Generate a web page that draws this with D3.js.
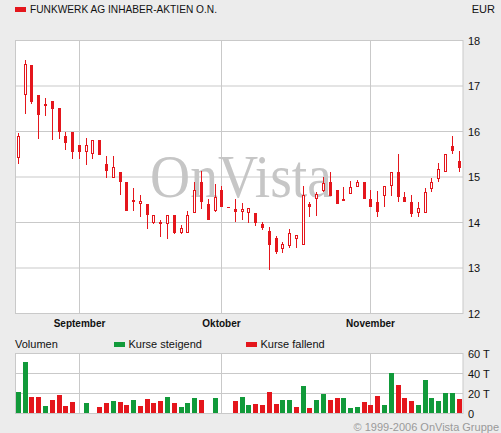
<!DOCTYPE html>
<html>
<head>
<meta charset="utf-8">
<script src="https://cdn.jsdelivr.net/npm/d3@7"></script>
<style>
  body { margin: 0; background: #ececec; }
  svg { display: block; font-family: "Liberation Sans", Arial, sans-serif; }
</style>
</head>
<body>
<div id="chart"></div>
<script>
// trading days (2006)
const dates = [
  "08-21","08-22","08-23","08-24","08-25","08-28","08-29","08-30","08-31",
  "09-01","09-04","09-05","09-06","09-07","09-08","09-11","09-12","09-13","09-14","09-15",
  "09-18","09-19","09-20","09-21","09-22","09-25","09-26","09-27","09-28","09-29",
  "10-02","10-03","10-04","10-05","10-06","10-09","10-10","10-11","10-12","10-13",
  "10-16","10-17","10-18","10-19","10-20","10-23","10-24","10-25","10-26","10-27","10-30","10-31",
  "11-01","11-02","11-03","11-06","11-07","11-08","11-09","11-10","11-13","11-14","11-15","11-16","11-17","11-20"
];
const open = [15.41,16.80,17.46,16.80,16.55,16.67,16.52,15.90,15.99,15.70,15.56,15.50,15.81,15.29,14.98,15.11,14.89,14.44,14.40,14.41,14.00,14.01,13.96,14.16,13.77,13.78,14.20,14.89,14.41,14.25,14.71,14.35,14.30,14.22,14.20,14.21,13.97,13.81,13.66,13.41,13.49,13.64,13.51,14.41,14.51,14.70,14.89,14.71,14.50,14.63,14.77,14.90,14.52,14.45,14.59,14.80,15.10,14.55,14.45,14.20,14.20,14.74,14.95,15.10,15.68,15.35];
const high = [15.96,17.57,17.46,16.80,16.74,16.67,16.52,16.00,15.99,15.70,15.86,15.81,15.81,15.46,15.46,15.11,14.89,14.75,14.60,14.41,14.16,14.05,14.16,14.16,13.95,14.25,14.88,15.13,14.51,14.85,14.80,14.35,14.51,14.43,14.31,14.21,14.02,13.91,13.70,13.57,13.86,13.72,14.80,14.46,14.68,15.01,15.11,14.71,14.77,14.91,14.93,14.90,14.71,14.69,14.80,15.10,15.51,14.67,14.60,14.45,14.75,14.98,15.31,15.50,15.90,15.57];
const low = [15.29,16.38,16.60,15.84,16.35,15.82,15.84,15.60,15.40,15.40,15.27,15.40,15.49,14.98,14.98,14.61,14.26,14.26,14.13,13.85,13.97,13.69,13.64,13.74,13.75,13.78,14.20,14.30,14.06,14.24,14.35,14.35,14.02,14.06,14.00,13.92,13.84,12.96,13.31,13.34,13.45,13.45,13.50,14.13,14.15,14.67,14.59,14.41,14.50,14.63,14.77,14.52,14.33,14.11,14.33,14.59,14.46,14.46,14.11,14.11,14.20,14.68,14.90,15.10,15.50,15.10];
const close = [15.90,17.48,16.65,16.37,16.60,16.50,16.00,15.75,15.56,15.56,15.70,15.81,15.49,15.14,15.21,14.90,14.26,14.49,14.47,14.17,14.16,14.02,14.16,13.78,13.89,14.16,14.71,14.45,14.06,14.55,14.35,14.35,14.23,14.30,14.31,14.00,13.88,13.50,13.35,13.53,13.76,13.72,14.60,14.35,14.63,14.86,14.59,14.41,14.51,14.79,14.88,14.52,14.33,14.22,14.80,15.10,14.55,14.46,14.19,14.31,14.66,14.88,15.17,15.50,15.58,15.20];
// volume in thousands
const volume = [21.7,51.7,16.7,16.7,7.7,13.7,18.7,7.7,11.7,0,10.7,0,6.7,10.7,12.7,11.7,8.7,13.7,7.7,14.7,10.7,12.7,16.7,10.7,6.7,10.7,15.7,13.7,0,15.7,0,0,12.7,16.7,8.7,9.7,8.7,21.7,9.7,13.7,13.7,6.7,27.7,5.7,13.7,19.7,13.7,15.7,15.7,5.7,6.7,11.7,8.7,17.7,8.7,40.7,28.7,15.7,12.7,8.7,33.7,15.7,12.7,20.7,20.7,14.7];

const monthStarts = ["09-01","10-02","11-01"];
const monthLabels = ["September","Oktober","November"];
const priceTicks = [12,13,14,15,16,17,18];
const volTicks = [0,20,40,60];

const width = 501, height = 433;
const red = "#e4161c", green = "#119a3a", grid = "#c9c9c9";

const svg = d3.select("#chart").append("svg")
  .attr("width", width).attr("height", height);

svg.append("rect").attr("width", width).attr("height", height).attr("fill", "#ececec");

const x = d3.scaleBand().domain(dates).range([15, 462.5]).padding(0);
const cx = (d) => Math.round(x(d) + x.bandwidth() / 2 - 0.5) + 0.5;
const y = d3.scaleLinear().domain([12, 18]).range([313.5, 40.5]);
const yv = d3.scaleLinear().domain([0, 60]).range([413.5, 353.5]);

const data = dates.map((d, i) => ({
  date: d, o: open[i], h: high[i], l: low[i], c: close[i], v: volume[i],
  up: i === 0 ? close[i] >= open[i] : close[i] >= close[i - 1],
}));

// header
svg.append("rect").attr("x", 15).attr("y", 7).attr("width", 11).attr("height", 5).attr("fill", red);
svg.append("text").attr("x", 30).attr("y", 13).attr("font-size", 11).attr("fill", "#111")
  .attr("textLength", 187).attr("lengthAdjust", "spacingAndGlyphs")
  .text("FUNKWERK AG INHABER-AKTIEN O.N.");
svg.append("text").attr("x", 495).attr("y", 13).attr("font-size", 11).attr("fill", "#111")
  .attr("text-anchor", "end").text("EUR");

// price panel
const pg = svg.append("g");
pg.append("rect").attr("x", 15.5).attr("y", 40.5).attr("width", 447.5).attr("height", 273)
  .attr("fill", "#fff");
pg.append("g").selectAll("line").data(priceTicks).join("line")
  .attr("x1", 15.5).attr("x2", 463).attr("y1", (d) => y(d)).attr("y2", (d) => y(d))
  .attr("stroke", grid);
pg.append("g").selectAll("line").data(monthStarts).join("line")
  .attr("x1", cx).attr("x2", cx).attr("y1", 40.5).attr("y2", 313.5)
  .attr("stroke", grid);
pg.append("rect").attr("x", 15.5).attr("y", 40.5).attr("width", 447.5).attr("height", 273)
  .attr("fill", "none").attr("stroke", grid);

// watermark
pg.append("text").attr("x", 150).attr("y", 197)
  .attr("font-family", "'Liberation Serif', 'DejaVu Serif', serif")
  .attr("font-size", 62).attr("fill", "#c6c6c6")
  .attr("textLength", 182).attr("lengthAdjust", "spacingAndGlyphs")
  .text("OnVista");

// candles
const candles = pg.append("g").selectAll("g").data(data).join("g");
candles.append("line")
  .attr("x1", (d) => cx(d.date)).attr("x2", (d) => cx(d.date))
  .attr("y1", (d) => Math.round(y(d.h))).attr("y2", (d) => Math.round(y(d.l)))
  .attr("stroke", red);
candles.filter((d) => d.c > d.o).append("rect")
  .attr("x", (d) => cx(d.date) - 1)
  .attr("y", (d) => Math.round(y(d.c)) + 0.5)
  .attr("width", 2)
  .attr("height", (d) => Math.max(1, Math.round(y(d.o)) - Math.round(y(d.c)) - 1))
  .attr("fill", "#fff").attr("stroke", red);
candles.filter((d) => d.c <= d.o).append("rect")
  .attr("x", (d) => cx(d.date) - 1.5)
  .attr("y", (d) => Math.round(y(d.o)))
  .attr("width", 3)
  .attr("height", (d) => Math.max(1, Math.round(y(d.c)) - Math.round(y(d.o))))
  .attr("fill", red);

// price axis labels
svg.append("g").selectAll("text").data(priceTicks).join("text")
  .attr("x", 468).attr("y", (d) => y(d) + 4).attr("font-size", 11).attr("fill", "#111")
  .text((d) => d);

// month labels
svg.append("g").selectAll("text").data(monthStarts).join("text")
  .attr("x", cx).attr("y", 327).attr("text-anchor", "middle")
  .attr("font-size", 10).attr("font-weight", "bold").attr("fill", "#111")
  .text((d, i) => monthLabels[i]);

// volume legend
svg.append("text").attr("x", 15).attr("y", 348).attr("font-size", 11).attr("fill", "#111").text("Volumen");
svg.append("rect").attr("x", 114).attr("y", 342).attr("width", 11).attr("height", 5).attr("fill", green);
svg.append("text").attr("x", 128.5).attr("y", 348).attr("font-size", 11).attr("fill", "#111").text("Kurse steigend");
svg.append("rect").attr("x", 246).attr("y", 342).attr("width", 11).attr("height", 5).attr("fill", red);
svg.append("text").attr("x", 260.5).attr("y", 348).attr("font-size", 11).attr("fill", "#111").text("Kurse fallend");

// volume panel
const vg = svg.append("g");
vg.append("rect").attr("x", 15.5).attr("y", 353.5).attr("width", 447.5).attr("height", 60)
  .attr("fill", "#fff");
vg.append("g").selectAll("line").data(volTicks).join("line")
  .attr("x1", 15.5).attr("x2", 463).attr("y1", (d) => yv(d)).attr("y2", (d) => yv(d))
  .attr("stroke", grid);
vg.append("g").selectAll("line").data(monthStarts).join("line")
  .attr("x1", cx).attr("x2", cx).attr("y1", 353.5).attr("y2", 413.5)
  .attr("stroke", grid);
vg.append("rect").attr("x", 15.5).attr("y", 353.5).attr("width", 447.5).attr("height", 60)
  .attr("fill", "none").attr("stroke", grid);
vg.append("g").selectAll("rect").data(data.filter((d) => d.v > 0)).join("rect")
  .attr("x", (d) => cx(d.date) - 2.5)
  .attr("y", (d) => Math.round(yv(d.v)))
  .attr("width", 5)
  .attr("height", (d) => 413 - Math.round(yv(d.v)))
  .attr("fill", (d) => (d.up ? green : red));

svg.append("g").selectAll("text").data(volTicks).join("text")
  .attr("x", 468).attr("y", (d) => yv(d) + 4).attr("font-size", 11).attr("fill", "#111")
  .text((d) => (d === 0 ? "0" : d + " T"));

svg.append("text").attr("x", 499).attr("y", 431).attr("text-anchor", "end")
  .attr("font-size", 11).attr("fill", "#9a9a9a").text("© 1999-2006 OnVista Gruppe");
</script>
</body>
</html>
